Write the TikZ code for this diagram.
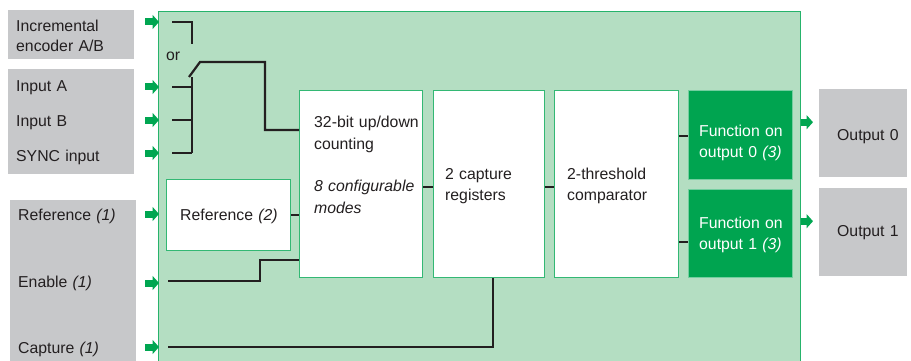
\documentclass[tikz,border=0pt]{standalone}
\usepackage{fontspec}
\setmainfont{Liberation Sans}
\usetikzlibrary{arrows.meta,positioning,calc}
\definecolor{pgreen}{RGB}{180,222,194}
\definecolor{sgreen}{RGB}{0,166,81}
\definecolor{fgreen}{RGB}{0,164,80}
\definecolor{lgrey}{RGB}{199,200,202}
\definecolor{ink}{RGB}{35,31,32}
\begin{document}
\begin{tikzpicture}[x=1pt,y=-1pt,font=\fontsize{15.8}{21.5}\selectfont,text=ink]
\tikzstyle{gbox}=[fill=lgrey,anchor=north west,inner sep=0pt]
\tikzstyle{wbox}=[draw=sgreen!80,line width=1.1pt,fill=white,anchor=north west,inner sep=0pt]
\tikzstyle{fbox}=[draw=sgreen!55,line width=1pt,fill=fgreen,anchor=north west,inner sep=0pt]
\tikzstyle{txt}=[anchor=base west,inner sep=0pt,align=left,text width=4cm]
\tikzstyle{wire}=[line width=2.2pt,draw=ink]
\tikzstyle{gin}=[line width=7pt,draw=sgreen,-{Triangle[length=6.5pt,width=14pt]}]
\useasboundingbox (0,0) rectangle (911,361);
% outer blocks
\node[gbox,minimum width=126,minimum height=49] (enc) at (8,10) {};
\node[gbox,minimum width=126,minimum height=105] (inp) at (8,69) {};
\node[gbox,minimum width=126,minimum height=170] (ctl) at (10,200) {};
\node[gbox,minimum width=88,minimum height=88] (out0) at (819,89) {};
\node[gbox,minimum width=88,minimum height=88] (out1) at (819,188) {};
\node[anchor=north west,inner sep=0pt,fill=pgreen,draw=sgreen!85,line width=0.8pt,minimum width=642,minimum height=360] (panel) at (158,11) {};
% inner blocks
\node[wbox,minimum width=124,minimum height=71] (ref) at (166,179) {};
\node[wbox,minimum width=123,minimum height=187] (cnt) at (299,90) {};
\node[wbox,minimum width=111,minimum height=187] (cap) at (433,90) {};
\node[wbox,minimum width=124,minimum height=187] (cmp) at (554,90) {};
\node[fbox,minimum width=104,minimum height=89] (fn0) at (688,90) {};
\node[fbox,minimum width=104,minimum height=88] (fn1) at (688,189) {};
% texts
\node[txt,font=\fontsize{15.8}{20}\selectfont] (tenc) at (16,32) {Incremental\\encoder A/B};
\node[txt] (tinA) at (16,92) {Input A};
\node[txt] (tinB) at (16,127) {Input B};
\node[txt] (tsync) at (16,161) {SYNC input};
\node[txt] (tref1) at (18,220) {Reference \textit{(1)}};
\node[txt] (tena) at (18,287) {Enable \textit{(1)}};
\node[txt] (tcap1) at (18,353) {Capture \textit{(1)}};
\node[txt] (tor) at (166,61) {or};
\node[txt] (tref2) at (180,220) {Reference \textit{(2)}};
\node[txt] (tcnt) at (314,128) {32-bit up/down\\counting\\[21pt]\textit{8 configurable}\\\textit{modes}};
\node[txt] (tcap) at (445,179) {2 capture\\registers};
\node[txt] (tcmp) at (567,179) {2-threshold\\comparator};
\node[txt,text=white] (tfn0) at (699,136) {Function on\\output 0 \textit{(3)}};
\node[txt,text=white] (tfn1) at (699,228) {Function on\\output 1 \textit{(3)}};
\node[txt] (tout0) at (837,140) {Output 0};
\node[txt] (tout1) at (837,236) {Output 1};
% green input/output arrows
\foreach \y in {22,87,120,153,214,283,347}
  \draw[gin] ($(panel.west|-0,\y)+(-13,0)$) -- ($(panel.west|-0,\y)+(1,0)$);
\foreach \o in {out0,out1}
  \draw[gin] ($(panel.east|-\o.west)+(0,-11)$) -- ($(\o.west)+(-6,-11)$);
% wiring
\coordinate (wenc) at (172,22);
\coordinate (wA) at (172,87);
\coordinate (wB) at (172,120);
\coordinate (wS) at (172,153);
\coordinate (sw) at (192,77);
\coordinate (wen) at (168,281);
\coordinate (wcp) at (168,347);
\coordinate (cpx) at ($(cap.south)+(4,0)$);
\draw[wire] (wenc) -- (192,22) -- (192,44);
\draw[wire] (sw) -- (192,153);
\foreach \c in {wA,wB,wS} \draw[wire] (\c) -- (\c -| sw);
\draw[wire] ($(sw)+(-3,0)$) -- (200,62) -- (265,62) -- (265,130) -- (cnt.west|-0,130);
\draw[wire] (ref.east) -- (ref.east -| cnt.west);
\draw[wire] (wen) -- (260,281) -- (260,260) -- (cnt.west|-0,260);
\draw[wire] (wcp) -- (cpx|-wcp) -- (cpx);
\draw[wire] (cnt.east|-0,187) -- (cap.west|-0,187);
\draw[wire] (cap.east|-0,187) -- (cmp.west|-0,187);
\draw[wire] (cmp.east|-0,136) -- (fn0.west|-0,136);
\draw[wire] (cmp.east|-0,242) -- (fn1.west|-0,242);
\end{tikzpicture}
\end{document}
